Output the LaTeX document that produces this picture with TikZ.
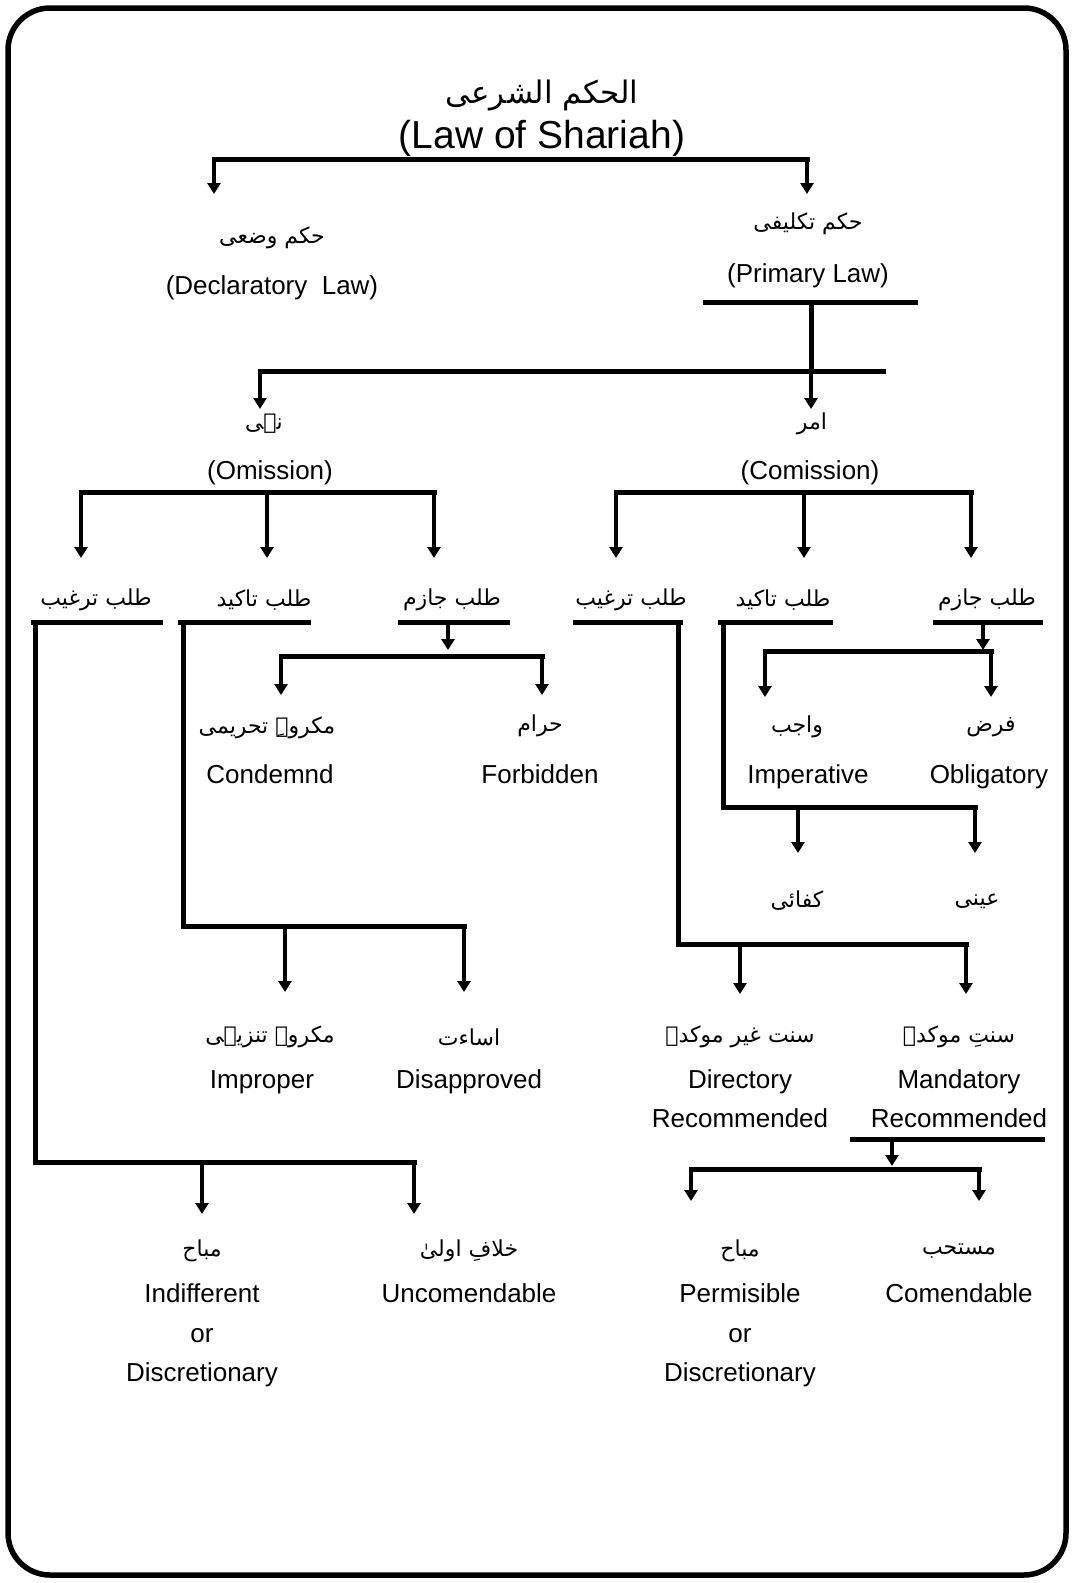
\documentclass[tikz,border=0pt]{standalone}
\usepackage{fontspec}
\setmainfont{Liberation Sans}
\newfontfamily\arabicfont[Script=Arabic]{DejaVu Sans}
\TeXXeTstate=1
\usetikzlibrary{arrows.meta}
\newcommand{\ur}[1]{{\arabicfont\beginR #1\endR}}

\begin{document}
\begin{tikzpicture}[x=1pt,y=-1pt,
  en/.style={inner sep=0pt, text height=19pt, text depth=0pt, font=\fontsize{26}{30}\selectfont},
  urd/.style={inner sep=0pt, font=\fontsize{22}{26}\selectfont},
  ln/.style={line width=5pt, line cap=rect, line join=miter},
  arr/.style={line width=4pt, -{Triangle[width=13pt,length=11pt]}},
]
\useasboundingbox (0,0) rectangle (1074,1583);
% outer frame
\draw[line width=5.5pt, rounded corners=42pt] (8,8) rectangle (1066,1575);

% ---------- title ----------
\node[urd, font=\fontsize{31}{38}\selectfont] (title) at (542,96) {\ur{الحکم الشرعی}};
\node[en, text height=28pt, font=\fontsize{39}{44}\selectfont] (titleEn) at (542,134) {(Law of Shariah)};

\coordinate (t1) at (214,159);
\coordinate (t2) at (807,159);
\draw[ln] (t1) -- (t2);
\draw[arr] (t1) -- ++(0,35);
\draw[arr] (t2) -- ++(0,35);

% ---------- second level ----------
\node[urd] (wadi) at (272,238) {\ur{حکم وضعی}};
\node[en] (wadiEn) at (272,285) {(Declaratory\ \ Law)};
\node[urd] (takl) at (808,224) {\ur{حکم تکلیفی}};
\node[en] (taklEn) at (808,273) {(Primary Law)};

\coordinate (pU1) at (705,302);
\coordinate (pU2) at (915,302);
\coordinate (pS) at (811,302);
\coordinate (pJ) at (811,371);
\coordinate (c1) at (260,371);
\coordinate (c2) at (883,371);
\draw[ln] (pU1) -- (pU2);
\draw[ln] (pS) -- (pJ);
\draw[ln] (c1) -- (c2);
\draw[arr] (c1) -- ++(0,38);
\draw[arr] (pJ) -- ++(0,38);

% ---------- third level ----------
\node[urd] (nahi) at (264,424) {\ur{نہی}};
\node[en] (nahiEn) at (270,470) {(Omission)};
\node[urd] (amr) at (812,424) {\ur{امر}};
\node[en] (amrEn) at (810,470) {(Comission)};

\coordinate (o1) at (81,492);
\coordinate (o2) at (267,492);
\coordinate (o3) at (434,492);
\draw[ln] (o1) -- (o3);
\foreach \c in {o1,o2,o3} \draw[arr] (\c) -- ++(0,66);

\coordinate (m1) at (616,492);
\coordinate (m2) at (804,492);
\coordinate (m3) at (971,492);
\draw[ln] (m1) -- (m3);
\foreach \c in {m1,m2,m3} \draw[arr] (\c) -- ++(0,66);

% ---------- kinds of demand ----------
\node[urd] (lTar) at (96,600) {\ur{طلب ترغیب}};
\node[urd] (lTak) at (264,600) {\ur{طلب تاکید}};
\node[urd] (lJaz) at (452,600) {\ur{طلب جازم}};
\node[urd] (rTar) at (631,600) {\ur{طلب ترغیب}};
\node[urd] (rTak) at (783,600) {\ur{طلب تاکید}};
\node[urd] (rJaz) at (987,600) {\ur{طلب جازم}};

\draw[ln] (33,622) coordinate (lTarA) -- (160,622);
\draw[ln] (180,622) coordinate (lTakA) -- (308,622);
\draw[ln] (400,622) -- (507,622);
\draw[ln] (575,622) -- (680,622) coordinate (rTarA);
\draw[ln] (720,622) coordinate (rTakA) -- (830,622);
\draw[ln] (935,622) -- (1040,622);

% left: talab jazim
\coordinate (lj0) at (448,622);
\draw[arr] (lj0) -- ++(0,28);
\coordinate (lj1) at (281,656);
\coordinate (lj2) at (542,656);
\draw[ln] (lj1) -- (lj2);
\draw[arr] (lj1) -- ++(0,39);
\draw[arr] (lj2) -- ++(0,39);
\node[urd] (tahrimi) at (267,728) {\ur{مکروہِ تحریمی}};
\node[en] (tahrimiEn) at (270,774) {Condemnd};
\node[urd] (haram) at (540,726) {\ur{حرام}};
\node[en] (haramEn) at (540,774) {Forbidden};

% right: talab jazim
\coordinate (rj0) at (983,622);
\draw[arr] (rj0) -- ++(0,28);
\coordinate (rj1) at (765,651);
\coordinate (rj2) at (991,651);
\draw[ln] (rj1) -- (rj2);
\draw[arr] (rj1) -- ++(0,46);
\draw[arr] (rj2) -- ++(0,46);
\node[urd] (wajib) at (797,727) {\ur{واجب}};
\node[en] (wajibEn) at (808,774) {Imperative};
\node[urd] (farz) at (991,727) {\ur{فرض}};
\node[en] (farzEn) at (989,774) {Obligatory};

% right: talab takid
\coordinate (rk1) at (723,807);
\coordinate (rk2) at (798,807);
\coordinate (rk3) at (975,807);
\draw[ln] (rTakA -| rk1) -- (rk1) -- (rk3);
\draw[arr] (rk2) -- ++(0,46);
\draw[arr] (rk3) -- ++(0,46);
\node[urd] (kifai) at (797,901) {\ur{کفائی}};
\node[urd] (aini) at (977,901) {\ur{عینی}};

% right: talab targhib
\coordinate (rt1) at (678,944);
\coordinate (rt2) at (740,944);
\coordinate (rt3) at (966,944);
\draw[ln] (rTarA -| rt1) -- (rt1) -- (rt3);
\draw[arr] (rt2) -- ++(0,50);
\draw[arr] (rt3) -- ++(0,50);
\node[urd] (ghair) at (740,1037) {\ur{سنت غیر موکدہ}};
\node[en] (ghairEn) at (740,1079) {Directory};
\node[en] (ghairEn2) at (740,1118) {Recommended};
\node[urd] (muak) at (959,1037) {\ur{سنتِ موکدہ}};
\node[en] (muakEn) at (959,1079) {Mandatory};
\node[en] (muakEn2) at (959,1118) {Recommended};

\coordinate (mu1) at (852,1139);
\coordinate (mu2) at (1042,1139);
\coordinate (mu0) at (892,1139);
\draw[ln] (mu1) -- (mu2);
\draw[arr] (mu0) -- ++(0,27);
\coordinate (ms1) at (691,1169);
\coordinate (ms2) at (979,1169);
\draw[ln] (ms1) -- (ms2);
\draw[arr] (ms1) -- ++(0,32);
\draw[arr] (ms2) -- ++(0,32);
\node[urd] (mubahR) at (740,1251) {\ur{مباح}};
\node[en] (mubahREn) at (740,1293) {Permisible};
\node[en] (mubahROr) at (740,1333) {or};
\node[en] (mubahRD) at (740,1372) {Discretionary};
\node[urd] (mustahab) at (959,1251) {\ur{مستحب}};
\node[en] (mustahabEn) at (959,1293) {Comendable};

% left: talab takid
\coordinate (lk1) at (183,926);
\coordinate (lk2) at (285,926);
\coordinate (lk3) at (464,926);
\draw[ln] (lTakA -| lk1) -- (lk1) -- (lk3);
\draw[arr] (lk2) -- ++(0,66);
\draw[arr] (lk3) -- ++(0,66);
\node[urd] (tanzihi) at (270,1037) {\ur{مکروہ تنزیہی}};
\node[en] (tanzihiEn) at (262,1079) {Improper};
\node[urd] (isaat) at (469,1037) {\ur{اساءت}};
\node[en] (isaatEn) at (469,1079) {Disapproved};

% left: talab targhib
\coordinate (lt1) at (35,1162);
\coordinate (lt2) at (202,1162);
\coordinate (lt3) at (414,1162);
\draw[ln] (lTarA -| lt1) -- (lt1) -- (lt3);
\draw[arr] (lt2) -- ++(0,52);
\draw[arr] (lt3) -- ++(0,52);
\node[urd] (mubahL) at (202,1251) {\ur{مباح}};
\node[en] (mubahLEn) at (202,1293) {Indifferent};
\node[en] (mubahLOr) at (202,1333) {or};
\node[en] (mubahLD) at (202,1372) {Discretionary};
\node[urd] (khilaf) at (469,1251) {\ur{خلافِ اولیٰ}};
\node[en] (khilafEn) at (469,1293) {Uncomendable};
\end{tikzpicture}
\end{document}
